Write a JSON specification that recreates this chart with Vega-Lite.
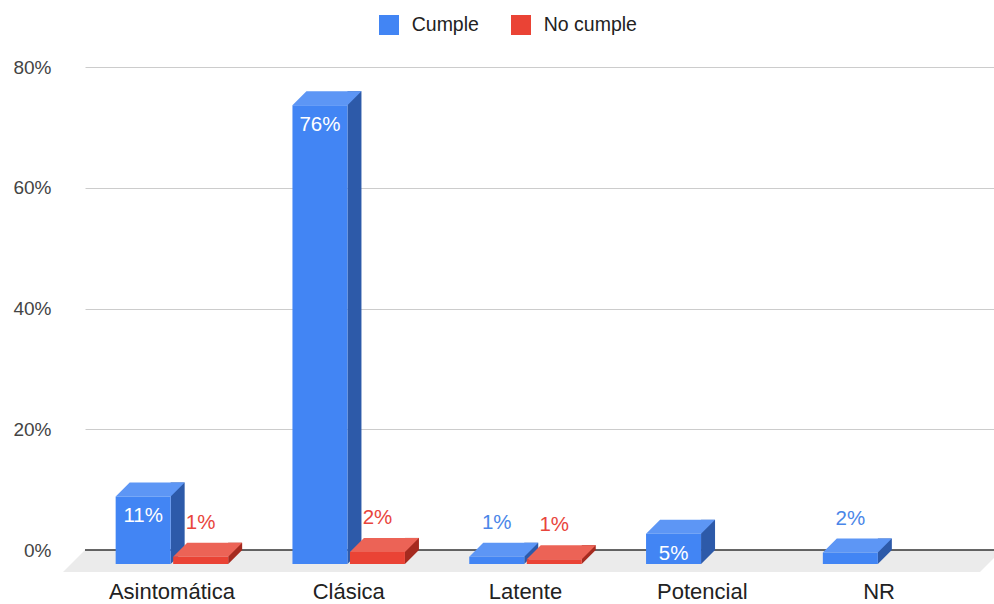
{
  "$schema": "https://vega.github.io/schema/vega-lite/v6.json",
  "width": 909,
  "height": 483,
  "autosize": {"type": "none"},
  "padding": {"left": 85, "top": 67, "right": 0, "bottom": 54},
  "background": "white",
  "config": {"view": {"stroke": null}, "font": "Liberation Sans"},
  "data": {"values": [
    {"cat": "Asintomática", "s": "Cumple", "v": 0.112},
    {"cat": "Asintomática", "s": "No cumple", "v": 0.012},
    {"cat": "Clásica", "s": "Cumple", "v": 0.76},
    {"cat": "Clásica", "s": "No cumple", "v": 0.02},
    {"cat": "Latente", "s": "Cumple", "v": 0.012},
    {"cat": "Latente", "s": "No cumple", "v": 0.008},
    {"cat": "Potencial", "s": "Cumple", "v": 0.05},
    {"cat": "NR", "s": "Cumple", "v": 0.019}
  ]},
  "layer": [
    {"data": {"values": [{}]}, "mark": {"type": "point", "shape": "M-454.5,0 L462.5,0 L440.5,22 L-476.5,22 Z", "size": 4, "filled": true, "opacity": 1, "strokeWidth": 0, "color": "#ebebeb"}, "encoding": {"y": {"datum": 0, "type": "quantitative"}}},
    {"data": {"values": [{}]}, "mark": {"type": "rule", "color": "#333333", "strokeWidth": 1.6}, "encoding": {"y": {"datum": 0, "type": "quantitative"}}},
    {
      "transform": [{"filter": "datum.s === 'Cumple'"}],
      "mark": {"type": "bar", "width": 14, "xOffset": -8.25, "color": "#2d5aa9"},
      "encoding": {
        "x": {"field": "cat", "type": "nominal", "sort": ["Asintomática", "Clásica", "Latente", "Potencial", "NR"],
          "scale": {"paddingInner": 0.3637, "paddingOuter": 0.2526},
          "axis": {"title": null, "domain": false, "ticks": false, "grid": false, "labelAngle": 0, "labelFontSize": 22, "labelColor": "#222222", "labelPadding": 48, "labelBaseline": "alphabetic", "labelOffset": -14, "labelFont": "Liberation Sans"}},
        "y": {"field": "v", "type": "quantitative", "stack": null, "scale": {"domain": [0, 0.8], "nice": false},
          "axis": {"title": null, "domain": false, "ticks": false, "tickSize": 0, "values": [0, 0.2, 0.4, 0.6, 0.8], "format": ".0%", "labelFontSize": 19, "labelColor": "#444444", "labelPadding": 34, "labelFont": "Liberation Sans", "grid": true, "gridColor": "#cccccc", "gridWidth": 1}}
      }
    },
    {
      "transform": [{"filter": "datum.s === 'Cumple'"}],
      "mark": {"type": "point", "shape": "M13.5,0 L27.5,0 L13.5,14 Z", "size": 4, "filled": true, "opacity": 1, "strokeWidth": 0, "xOffset": -28.75, "color": "#2d5aa9"},
      "encoding": {
        "x": {"field": "cat", "type": "nominal", "sort": ["Asintomática", "Clásica", "Latente", "Potencial", "NR"]},
        "y": {"datum": 0, "type": "quantitative"}
      }
    },
    {
      "transform": [{"filter": "datum.s === 'Cumple'"}],
      "mark": {"type": "point", "shape": "M-27.5,0 L27.5,0 L13.5,14 L-41.5,14 Z", "size": 4, "filled": true, "opacity": 1, "strokeWidth": 0, "xOffset": -28.75, "color": "#5d96f5"},
      "encoding": {
        "x": {"field": "cat", "type": "nominal", "sort": ["Asintomática", "Clásica", "Latente", "Potencial", "NR"]},
        "y": {"field": "v", "type": "quantitative"}
      }
    },
    {
      "transform": [{"filter": "datum.s === 'Cumple'"}],
      "mark": {"type": "bar", "width": 55, "xOffset": -42.75, "yOffset": 14, "y2Offset": 14},
      "encoding": {
        "x": {"field": "cat", "type": "nominal", "sort": ["Asintomática", "Clásica", "Latente", "Potencial", "NR"]},
        "y": {"field": "v", "type": "quantitative", "stack": null},
        "y2": {"datum": 0},
        "color": {"field": "s", "type": "nominal", "scale": {"domain": ["Cumple", "No cumple"], "range": ["#4285F4", "#EA4335"]},
          "legend": {"title": null, "orient": "none", "legendX": 294, "legendY": -52, "direction": "horizontal", "symbolType": "square", "symbolSize": 400, "symbolStrokeWidth": 0, "symbolOpacity": 1, "labelFontSize": 19.5, "labelColor": "#222222", "labelFont": "Liberation Sans", "labelOffset": 12.7, "columnPadding": 32, "padding": 0}}
      }
    },
    {
      "transform": [{"filter": "datum.s === 'No cumple'"}],
      "mark": {"type": "bar", "width": 14, "xOffset": 49.25, "color": "#a52a1f"},
      "encoding": {
        "x": {"field": "cat", "type": "nominal", "sort": ["Asintomática", "Clásica", "Latente", "Potencial", "NR"]},
        "y": {"field": "v", "type": "quantitative", "stack": null}
      }
    },
    {
      "transform": [{"filter": "datum.s === 'No cumple'"}],
      "mark": {"type": "point", "shape": "M13.5,0 L27.5,0 L13.5,14 Z", "size": 4, "filled": true, "opacity": 1, "strokeWidth": 0, "xOffset": 28.75, "color": "#a52a1f"},
      "encoding": {
        "x": {"field": "cat", "type": "nominal", "sort": ["Asintomática", "Clásica", "Latente", "Potencial", "NR"]},
        "y": {"datum": 0, "type": "quantitative"}
      }
    },
    {
      "transform": [{"filter": "datum.s === 'No cumple'"}],
      "mark": {"type": "point", "shape": "M-27.5,0 L27.5,0 L13.5,14 L-41.5,14 Z", "size": 4, "filled": true, "opacity": 1, "strokeWidth": 0, "xOffset": 28.75, "color": "#ec6356"},
      "encoding": {
        "x": {"field": "cat", "type": "nominal", "sort": ["Asintomática", "Clásica", "Latente", "Potencial", "NR"]},
        "y": {"field": "v", "type": "quantitative"}
      }
    },
    {
      "transform": [{"filter": "datum.s === 'No cumple'"}],
      "mark": {"type": "bar", "width": 55, "xOffset": 14.75, "yOffset": 14, "y2Offset": 14},
      "encoding": {
        "x": {"field": "cat", "type": "nominal", "sort": ["Asintomática", "Clásica", "Latente", "Potencial", "NR"]},
        "y": {"field": "v", "type": "quantitative", "stack": null},
        "y2": {"datum": 0},
        "color": {"field": "s", "type": "nominal"}
      }
    },
    {
      "transform": [{"filter": "datum.s === 'Cumple' && datum.v >= 0.04"}],
      "mark": {"type": "text", "dx": -42.75, "yOffset": 34, "baseline": "middle", "align": "center", "fontSize": 20.5, "font": "Liberation Sans", "color": "white"},
      "encoding": {
        "x": {"field": "cat", "type": "nominal", "sort": ["Asintomática", "Clásica", "Latente", "Potencial", "NR"]},
        "y": {"field": "v", "type": "quantitative"},
        "text": {"field": "v", "type": "quantitative", "format": ".0%"}
      }
    },
    {
      "transform": [{"filter": "datum.s === 'Cumple' && datum.v < 0.04"}],
      "mark": {"type": "text", "dx": -42.75, "yOffset": -20, "baseline": "middle", "align": "center", "fontSize": 20.5, "font": "Liberation Sans", "color": "#4a86e8"},
      "encoding": {
        "x": {"field": "cat", "type": "nominal", "sort": ["Asintomática", "Clásica", "Latente", "Potencial", "NR"]},
        "y": {"field": "v", "type": "quantitative"},
        "text": {"field": "v", "type": "quantitative", "format": ".0%"}
      }
    },
    {
      "transform": [{"filter": "datum.s === 'No cumple' && datum.v >= 0.04"}],
      "mark": {"type": "text", "dx": 14.75, "yOffset": 34, "baseline": "middle", "align": "center", "fontSize": 20.5, "font": "Liberation Sans", "color": "white"},
      "encoding": {
        "x": {"field": "cat", "type": "nominal", "sort": ["Asintomática", "Clásica", "Latente", "Potencial", "NR"]},
        "y": {"field": "v", "type": "quantitative"},
        "text": {"field": "v", "type": "quantitative", "format": ".0%"}
      }
    },
    {
      "transform": [{"filter": "datum.s === 'No cumple' && datum.v < 0.04"}],
      "mark": {"type": "text", "dx": 14.75, "yOffset": -20, "baseline": "middle", "align": "center", "fontSize": 20.5, "font": "Liberation Sans", "color": "#e8453c"},
      "encoding": {
        "x": {"field": "cat", "type": "nominal", "sort": ["Asintomática", "Clásica", "Latente", "Potencial", "NR"]},
        "y": {"field": "v", "type": "quantitative"},
        "text": {"field": "v", "type": "quantitative", "format": ".0%"}
      }
    }
  ]
}
